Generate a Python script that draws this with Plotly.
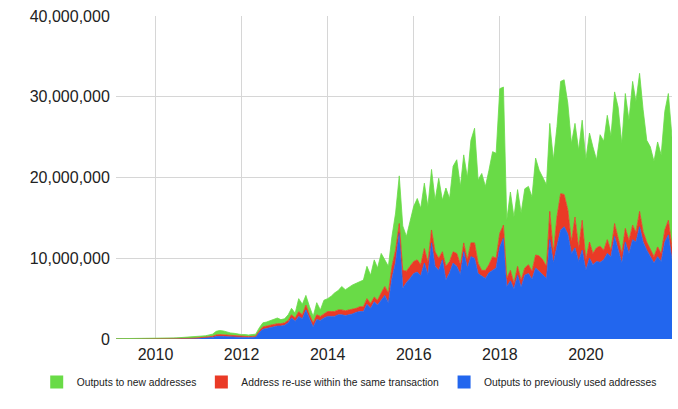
import pandas as pd
import plotly.graph_objects as go

# Monthly values (millions of outputs), Jan 2009 .. Dec 2021
dates = pd.date_range("2009-01-31", periods=156, freq="ME")

previously_used = [
    # 2009
    0.01, 0.01, 0.01, 0.01, 0.01, 0.01, 0.02, 0.02, 0.02, 0.02, 0.02, 0.02,
    # 2010
    0.02, 0.03, 0.03, 0.03, 0.04, 0.04, 0.05, 0.05, 0.06, 0.07, 0.08, 0.09,
    # 2011
    0.12, 0.13, 0.17, 0.2, 0.3, 0.33, 0.32, 0.28, 0.25, 0.23, 0.2, 0.18,
    # 2012
    0.2, 0.2, 0.22, 0.24, 0.8, 1.2, 1.3, 1.4, 1.5, 1.6, 1.6, 1.7,
    # 2013
    2.0, 2.6, 2.2, 2.8, 2.5, 3.6, 2.5, 1.5, 2.4, 2.3, 2.6, 2.8,
    # 2014
    2.8, 2.8, 3.0, 3.0, 2.9, 3.0, 3.1, 3.3, 3.4, 3.4, 4.3, 3.8,
    # 2015
    4.6, 4.2, 4.8, 5.4, 4.5, 7.5, 9.5, 13.1, 6.3, 7.0, 7.5, 8.1,
    # 2016
    8.3, 7.8, 9.4, 8.0, 11.9, 9.0, 8.5, 9.8, 7.3, 8.2, 9.4, 9.0,
    # 2017
    8.0, 10.8, 8.8, 10.2, 10.0, 8.1, 7.8, 7.5, 8.2, 8.5, 8.8, 11.4,
    # 2018
    12.5, 6.5, 7.2, 6.2, 7.9, 6.4, 7.9, 8.1, 7.4, 8.8, 8.4, 8.0,
    # 2019
    7.5, 12.3, 9.4, 11.5, 13.5, 13.9, 13.0, 10.6, 11.3, 9.6, 11.0, 8.5,
    # 2020
    10.0, 9.2, 9.6, 9.5, 9.8, 10.6, 10.2, 12.7, 11.0, 9.4, 12.0, 10.6,
    # 2021
    12.3, 12.0, 13.9, 12.0, 11.0, 10.2, 9.4, 10.2, 9.6, 12.0, 12.9, 9.8,
]

reuse_same_tx = [
    # 2009
    0.0, 0.0, 0.0, 0.0, 0.0, 0.0, 0.0, 0.0, 0.0, 0.0, 0.0, 0.01,
    # 2010
    0.01, 0.01, 0.01, 0.01, 0.01, 0.01, 0.02, 0.02, 0.02, 0.03, 0.03, 0.04,
    # 2011
    0.08, 0.09, 0.11, 0.13, 0.2, 0.22, 0.2, 0.17, 0.15, 0.15, 0.13, 0.12,
    # 2012
    0.1, 0.1, 0.1, 0.11, 0.2, 0.3, 0.3, 0.3, 0.3, 0.3, 0.3, 0.3,
    # 2013
    0.3, 0.4, 0.4, 0.6, 0.5, 0.6, 0.5, 0.5, 0.6, 0.5, 0.5, 0.6,
    # 2014
    0.6, 0.6, 0.6, 0.6, 0.6, 0.6, 0.6, 0.5, 0.6, 0.6, 0.7, 0.6,
    # 2015
    0.6, 0.6, 0.9, 1.1, 1.2, 1.5, 1.5, 1.2, 2.2, 1.4, 1.5, 1.5,
    # 2016
    1.5, 1.4, 1.8, 1.5, 1.6, 1.8, 1.5, 1.0, 1.7, 1.4, 1.4, 1.6,
    # 2017
    1.2, 1.1, 1.0, 1.7, 1.9, 1.3, 0.7, 1.0, 1.0, 1.7, 1.2, 1.7,
    # 2018
    1.6, 1.0, 1.3, 0.7, 1.1, 0.9, 0.9, 1.1, 1.0, 1.6, 1.9, 1.8,
    # 2019
    1.5, 3.5, 1.2, 3.6, 4.5, 4.0, 3.0, 1.4, 3.8, 1.6, 3.7, 1.3,
    # 2020
    2.0, 1.4, 1.7, 2.0, 1.2, 1.7, 0.8, 1.6, 1.5, 1.2, 1.7, 1.6,
    # 2021
    1.8, 1.2, 1.9, 1.3, 1.0, 1.0, 0.8, 1.2, 1.0, 1.5, 1.8, 1.6,
]

new_addresses = [
    # 2009
    0.03, 0.03, 0.04, 0.04, 0.05, 0.05, 0.05, 0.05, 0.06, 0.06, 0.06, 0.07,
    # 2010
    0.07, 0.07, 0.08, 0.08, 0.08, 0.09, 0.10, 0.11, 0.12, 0.14, 0.15, 0.18,
    # 2011
    0.15, 0.18, 0.22, 0.27, 0.45, 0.5, 0.48, 0.4, 0.35, 0.32, 0.27, 0.25,
    # 2012
    0.25, 0.2, 0.23, 0.25, 0.4, 0.5, 0.5, 0.6, 0.6, 0.7, 0.5, 0.5,
    # 2013
    0.7, 0.8, 0.6, 1.6, 1.3, 1.2, 1.0, 0.8, 1.5, 0.8, 1.7, 1.6,
    # 2014
    1.9, 2.3, 2.4, 2.9, 2.6, 2.8, 3.0, 3.1, 3.1, 3.3, 4.0, 3.5,
    # 2015
    4.6, 4.0, 4.9, 3.3, 3.3, 3.7, 4.6, 5.9, 5.5, 4.3, 5.7, 6.8,
    # 2016
    7.6, 7.0, 8.1, 6.9, 7.5, 6.4, 9.9, 6.4, 9.7, 7.8, 10.6, 11.6,
    # 2017
    9.7, 10.9, 10.2, 12.7, 14.2, 10.3, 12.0, 10.4, 11.7, 13.0, 13.0, 17.9,
    # 2018
    17.1, 7.2, 9.7, 8.2, 9.5, 8.3, 9.8, 9.7, 9.2, 12.0, 10.6, 10.1,
    # 2019
    10.1, 10.9, 11.6, 11.2, 13.9, 14.2, 13.2, 12.2, 11.6, 12.2, 12.4, 12.4,
    # 2020
    13.5, 13.2, 10.9, 13.8, 13.5, 15.4, 14.1, 16.3, 16.2, 13.6, 16.7, 14.9,
    # 2021
    17.8, 16.2, 17.1, 15.1, 12.6, 12.6, 11.8, 13.0, 12.2, 14.7, 15.7, 13.6,
]

series_names = [
    "Outputs to previously used addresses",
    "Address re-use within the same transaction",
    "Outputs to new addresses",
]
series_values = [previously_used, reuse_same_tx, new_addresses]
series_colors = ["#2266EE", "#EA3A26", "#69DB47"]

y_tick_values = [0, 10_000_000, 20_000_000, 30_000_000, 40_000_000]

FONT = "Liberation Sans, Arial, Helvetica, sans-serif"

fig = go.Figure()
for name, vals, col in zip(series_names, series_values, series_colors):
    fig.add_trace(go.Scatter(
        x=dates, y=[v * 1_000_000 for v in vals], name=name,
        mode="lines", stackgroup="one",
        line=dict(color=col, width=0.8), fillcolor=col,
        showlegend=False, hoverinfo="skip",
    ))

# legend entries (square swatches), ordered as in the reference
for name, col in zip(series_names[::-1], series_colors[::-1]):
    fig.add_trace(go.Scatter(
        x=[None], y=[None], mode="markers", name=name,
        marker=dict(symbol="square", size=13, color=col),
        showlegend=True,
    ))

fig.update_layout(
    width=678, height=409,
    margin=dict(l=116, r=6, t=16, b=70, autoexpand=False),
    paper_bgcolor="white", plot_bgcolor="white",
    font=dict(family=FONT, color="#222222"),
    legend=dict(
        orientation="h", xref="paper", yref="paper",
        x=-0.1426, xanchor="left", y=-0.133, yanchor="middle",
        font=dict(size=10.3, color="#222222"),
        traceorder="normal", itemclick=False,
    ),
    xaxis=dict(
        type="date", range=[dates[0], dates[-1]],
        tick0="2010-01-01", dtick="M24", tickformat="%Y",
        showgrid=True, gridcolor="#d6d6d6", gridwidth=1,
        zeroline=False, showline=False, automargin=False,
        ticks="outside", ticklen=1, tickcolor="rgba(0,0,0,0)",
        tickfont=dict(size=16, color="#222222"),
        ticklabeloverflow="allow",
    ),
    yaxis=dict(
        range=[0, 40_000_000], tickvals=y_tick_values, tickformat=",d",
        showgrid=True, gridcolor="#d6d6d6", gridwidth=1,
        zeroline=False, showline=False, automargin=False,
        ticks="outside", ticklen=2, tickcolor="rgba(0,0,0,0)",
        tickfont=dict(size=16, color="#222222"),
        ticklabeloverflow="allow",
    ),
)

# remove the browser's default 8px page margin so the figure fills the window
fig.write_html(
    "out.html",
    config={"displayModeBar": False},
    post_script="document.body.style.margin='0';",
)
